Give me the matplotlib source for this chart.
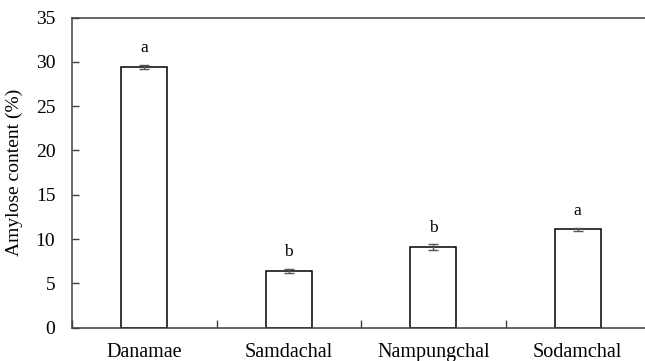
import numpy as np
import matplotlib.pyplot as plt

# Data
cultivars = ['Danamae', 'Samdachal', 'Nampungchal', 'Sodamchal']
amylose = [29.4, 6.4, 9.1, 11.1]
errors = [0.2, 0.25, 0.3, 0.2]
letters = ['a', 'b', 'b', 'a']

plt.rcParams['font.family'] = ['Liberation Serif', 'DejaVu Serif']

fig = plt.figure(figsize=(6.45, 3.61), dpi=100)
W, H = 645, 361
# axes extends slightly past the right edge like the cropped original
ax = fig.add_axes([72 / W, (H - 327.7) / H, (650 - 72) / W, (327.7 - 17.5) / H])

x = np.arange(len(cultivars)) + 0.5
ax.bar(x, amylose, width=0.315, color='white', edgecolor='black', linewidth=1.1, zorder=2)
ax.errorbar(x, amylose, yerr=errors, fmt='none', ecolor='#555555',
            elinewidth=1, capsize=3.5, capthick=1, zorder=3)

for xi, v, e, l in zip(x, amylose, errors, letters):
    ax.text(xi, v + e + 1.0, l, ha='center', va='bottom', fontsize=12.5)

ax.set_xlim(0, 4)
ax.set_ylim(0, 35)
ax.set_yticks(range(0, 36, 5))
ax.set_xticks([0, 1, 2, 3, 4])
ax.set_xticklabels([])
ax.set_xticks(x, minor=True)
ax.set_xticklabels(cultivars, minor=True, fontsize=14.5)
ax.tick_params(axis='x', which='minor', length=0, pad=11)
ax.tick_params(axis='x', which='major', direction='in', length=6, width=1, color='#404040')
ax.tick_params(axis='y', direction='in', length=5, width=1, color='#404040',
               labelsize=14, pad=12)

ax.set_ylabel('Amylose content (%)', fontsize=14, labelpad=9)

for s in ['left', 'bottom', 'top']:
    ax.spines[s].set_color('#404040')
    ax.spines[s].set_linewidth(1.1)
ax.spines['right'].set_visible(False)

fig.savefig('out.png', dpi=100)
